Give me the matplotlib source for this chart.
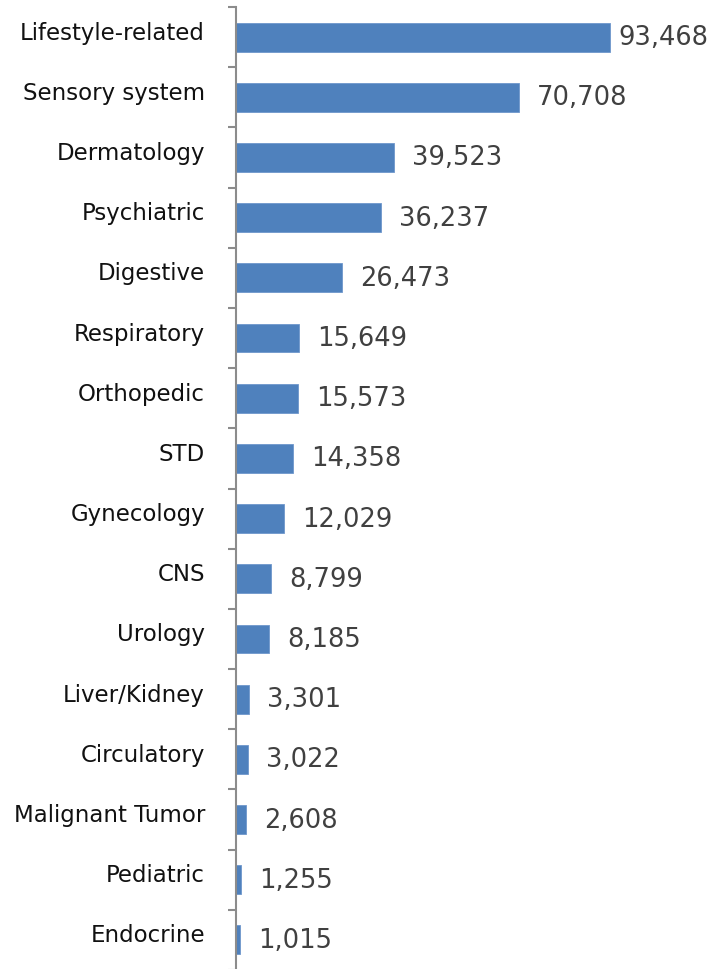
import matplotlib
matplotlib.use("Agg")
import matplotlib.pyplot as plt
from matplotlib.ticker import FixedLocator, NullFormatter
import matplotlib.transforms as mtransforms

categories = ["Lifestyle-related", "Sensory system", "Dermatology", "Psychiatric",
              "Digestive", "Respiratory", "Orthopedic", "STD", "Gynecology", "CNS",
              "Urology", "Liver/Kidney", "Circulatory", "Malignant Tumor",
              "Pediatric", "Endocrine"]
values = [93468, 70708, 39523, 36237, 26473, 15649, 15573, 14358, 12029, 8799,
          8185, 3301, 3022, 2608, 1255, 1015]

W, H, DPI = 710, 970, 100
fig = plt.figure(figsize=(W / DPI, H / DPI), dpi=DPI)
ax = fig.add_axes([236 / W, -1 / H, 1 - 236 / W, (H - 8 + 1) / H])

n = len(categories)
ypos = list(range(n))
bar_color = "#4F81BD"
ax.barh(ypos, values, height=0.48, color=bar_color, edgecolor="#6F97CC", linewidth=0.6)

ax.set_ylim(n - 0.5, -0.5)
ax.set_xlim(0, 118500)

for s in ["top", "right", "bottom"]:
    ax.spines[s].set_visible(False)
ax.spines["left"].set_color("#8C8C8C")
ax.spines["left"].set_linewidth(1.5)
ax.spines["left"].set_clip_on(False)
ax.set_xticks([])

# tick marks between categories
ax.yaxis.set_major_locator(FixedLocator([i - 0.5 for i in range(n + 1)]))
ax.yaxis.set_major_formatter(NullFormatter())
ax.tick_params(axis="y", which="major", length=6, width=1.5, color="#8C8C8C", direction="out")

# category labels
offset = mtransforms.ScaledTranslation(-31 / DPI, 5 / DPI, fig.dpi_scale_trans)
for y, lab in zip(ypos, categories):
    ax.text(0, y, lab, transform=ax.get_yaxis_transform() + offset,
            ha="right", va="center", fontsize=16.5, color="#111111",
            family="DejaVu Sans")

# value labels
texts = []
for y, v in zip(ypos, values):
    t = ax.annotate(f"{v:,}", xy=(v, y), xytext=(13, 0), textcoords="offset points",
                    ha="left", va="center", fontsize=18.5, color="#404040",
                    family="DejaVu Sans", annotation_clip=False)
    texts.append(t)

# keep labels inside the figure (like the original, which squeezes the top label)
fig.canvas.draw()
r = fig.canvas.get_renderer()
for t in texts:
    bb = t.get_window_extent(r)
    if bb.x1 > W - 2:
        shift = (bb.x1 - (W - 2)) * 72 / DPI
        x0, y0 = t.xyann
        t.xyann = (x0 - shift, y0)

fig.savefig("out.png", dpi=DPI)
